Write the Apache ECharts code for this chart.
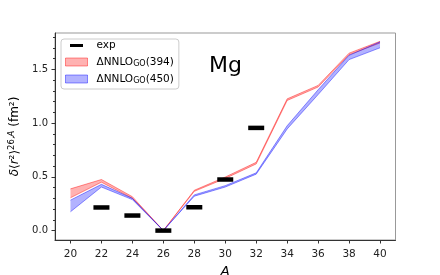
<!DOCTYPE html>
<html>
<head>
<meta charset="utf-8">
<script src="https://cdn.jsdelivr.net/npm/echarts@6/dist/echarts.min.js"></script>
<style>html,body{margin:0;padding:0;background:#fff;}#c{width:440px;height:275px;}</style>
</head>
<body>
<div id="c"></div>
<script>
// Mass numbers
const massA = [20, 22, 24, 26, 28, 30, 32, 34, 36, 38, 40];
// ΔNNLO_GO(394) band
const r394Lo = [0.305, 0.450, 0.300, 0.0, 0.365, 0.485, 0.620, 1.210, 1.335, 1.635, 1.745];
const r394Hi = [0.388, 0.475, 0.315, 0.0, 0.375, 0.498, 0.635, 1.225, 1.350, 1.650, 1.760];
// ΔNNLO_GO(450) band
const r450Lo = [0.175, 0.405, 0.288, 0.0, 0.320, 0.405, 0.525, 0.945, 1.265, 1.590, 1.700];
const r450Hi = [0.283, 0.430, 0.300, 0.0, 0.332, 0.418, 0.537, 0.975, 1.310, 1.630, 1.755];
// experiment
const expA = [22, 24, 26, 28, 30, 32];
const expV = [0.215, 0.140, 0.0, 0.217, 0.475, 0.955];
// ticks
const xTicks = [20, 22, 24, 26, 28, 30, 32, 34, 36, 38, 40];
const yTicks = [0, 0.5, 1.0, 1.5];
const yMinor = [0.1, 0.2, 0.3, 0.4, 0.6, 0.7, 0.8, 0.9, 1.1, 1.2, 1.3, 1.4, 1.6, 1.7, 1.8];

const FONT = 'DejaVu Sans';
const chart = echarts.init(document.getElementById('c'), null, {renderer: 'canvas'});

const red = 'rgba(255,0,0,0.30)';
const redEdge = 'rgba(255,0,0,0.42)';
const blue = 'rgba(0,0,255,0.30)';
const blueEdge = 'rgba(0,0,255,0.42)';

function bandSeries(name, lo, hi, fill, edge, z) {
  const data = massA.map((a, i) => [a, lo[i], hi[i]]);
  return {
    name: name, type: 'custom', z: z, data: data,
    encode: {x: 0, y: [1, 2]},
    itemStyle: {color: fill},
    renderItem: function (params, api) {
      if (params.dataIndex !== 0) return null;
      const top = data.map(d => api.coord([d[0], d[2]]));
      const bot = data.map(d => api.coord([d[0], d[1]]));
      const poly = top.concat(bot.slice().reverse());
      return {
        type: 'group',
        children: [
          {type: 'polygon', shape: {points: poly}, style: {fill: fill, stroke: null}},
          {type: 'polyline', shape: {points: top}, style: {fill: null, stroke: edge, lineWidth: 1}},
          {type: 'polyline', shape: {points: bot}, style: {fill: null, stroke: edge, lineWidth: 1}}
        ]
      };
    }
  };
}

const legendNames = {
  exp: '{t|exp}',
  r394: '{t|ΔNNLO}{s|GO}{t|(394)}',
  r450: '{t|ΔNNLO}{s|GO}{t|(450)}'
};

const option = {
  animation: false,
  backgroundColor: '#fff',
  grid: {left: 55, right: 44.5, top: 33, bottom: 35, containLabel: false, outerBoundsMode: 'none',
    show: true, borderColor: '#999', borderWidth: 1, backgroundColor: 'transparent'},
  xAxis: {
    type: 'value', min: 19, max: 41,
    name: 'A', nameLocation: 'middle', nameGap: 20,
    nameTextStyle: {fontFamily: FONT, fontSize: 13, fontStyle: 'italic', color: '#000'},
    axisLine: {show: true, onZero: false, lineStyle: {color: '#333', width: 1}},
    axisTick: {show: true, length: 3.5, lineStyle: {color: '#333'}, customValues: xTicks},
    axisLabel: {fontFamily: FONT, fontSize: 10.5, color: '#222', margin: 9, customValues: xTicks},
    splitLine: {show: false}
  },
  yAxis: [{
    type: 'value', min: -0.0875, max: 1.8375,
    name: '{i|δ}{n|⟨}{i|r}{n|²⟩}{s|26,}{si|A}{n| (fm²)}', nameLocation: 'middle', nameGap: 27,
    nameTextStyle: {fontFamily: FONT, fontSize: 12, color: '#000',
      rich: {
        i: {fontFamily: FONT, fontSize: 12, fontStyle: 'italic', lineHeight: 15},
        n: {fontFamily: FONT, fontSize: 12, lineHeight: 15},
        s: {fontFamily: FONT, fontSize: 8.5, verticalAlign: 'top', lineHeight: 10},
        si: {fontFamily: FONT, fontSize: 8.5, fontStyle: 'italic', verticalAlign: 'top', lineHeight: 10}
      }},
    axisLine: {show: true, onZero: false, lineStyle: {color: '#333', width: 1}},
    axisTick: {show: true, length: 3.5, lineStyle: {color: '#333'}, customValues: yTicks},
    axisLabel: {fontFamily: FONT, fontSize: 10, color: '#222', margin: 7, customValues: yTicks,
      formatter: v => v.toFixed(1)},
    splitLine: {show: false}
  }, {
    type: 'value', min: -0.0875, max: 1.8375, position: 'left',
    axisLine: {show: false},
    axisTick: {show: true, length: 2, lineStyle: {color: '#333'}, customValues: yMinor},
    axisLabel: {show: false},
    splitLine: {show: false}
  }],
  legend: {
    orient: 'vertical', left: 61, top: 39,
    padding: [1, 5, 4, 4], itemGap: 5.5,
    itemWidth: 22, itemHeight: 8,
    backgroundColor: '#fff', borderColor: '#ccc', borderWidth: 1, borderRadius: 3,
    formatter: n => legendNames[n],
    textStyle: {fontFamily: FONT, fontSize: 10.5, color: '#000', padding: [0, 0, 0, 4],
      rich: {
        t: {fontFamily: FONT, fontSize: 10.5, lineHeight: 12},
        s: {fontFamily: FONT, fontSize: 8, verticalAlign: 'bottom', lineHeight: 7}
      }},
    data: [
      {name: 'exp', icon: 'path://M0,0M22,8M4.5,2.5L17.5,2.5L17.5,5.5L4.5,5.5Z', itemStyle: {color: '#000', borderWidth: 0, opacity: 1}},
      {name: 'r394', icon: 'rect', itemStyle: {color: red, borderColor: redEdge, borderWidth: 1}},
      {name: 'r450', icon: 'rect', itemStyle: {color: blue, borderColor: blueEdge, borderWidth: 1}}
    ]
  },
  graphic: [{
    type: 'text', left: 209, top: 55,
    style: {text: 'Mg', font: '22px "DejaVu Sans"', fill: '#000'}
  }],
  series: [
    bandSeries('r394', r394Lo, r394Hi, red, redEdge, 2),
    bandSeries('r450', r450Lo, r450Hi, blue, blueEdge, 3),
    {name: 'exp', type: 'scatter', data: expA.map((a, i) => [a, expV[i]]), symbol: 'rect', symbolSize: [16, 4.5],
      itemStyle: {color: '#000', opacity: 1}, z: 5}
  ]
};
chart.setOption(option);
</script>
</body>
</html>
